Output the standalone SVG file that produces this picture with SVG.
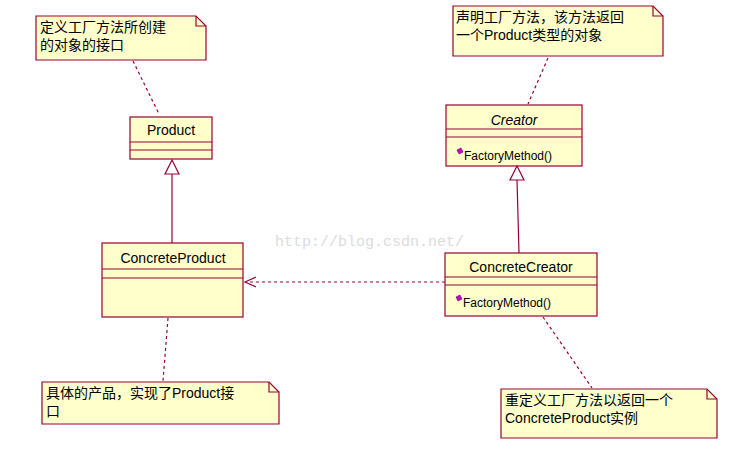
<svg xmlns="http://www.w3.org/2000/svg" width="744" height="460" viewBox="0 0 744 460">
<style>
.box{fill:#ffffcc;stroke:#990033;stroke-width:1.2}
.ln{stroke:#990033;stroke-width:1.2;fill:none}
.dash{stroke:#990033;stroke-width:1.2;fill:none;stroke-dasharray:3,3}
text{font-family:"Liberation Sans","Noto Sans CJK SC",sans-serif;font-size:14px;fill:#000}
.op{font-size:12px}
</style>
<rect width="744" height="460" fill="#fff"/>
<text x="275" y="246" style="font-family:'Liberation Mono',monospace;font-size:15px;fill:#dcdcdc">http://blog.csdn.net/</text>
<g id="note1"><path class="box" d="M36,16H196L206,26V60H36Z"/><path class="ln" d="M196,16V26H206"/>
<text x="40" y="32">定义工厂方法所创建</text><text x="40" y="50">的对象的接口</text></g>
<g id="note2"><path class="box" d="M453,6H653L663,16V56H453Z"/><path class="ln" d="M653,6V16H663"/>
<text x="456" y="22">声明工厂方法，该方法返回</text><text x="456" y="40">一个Product类型的对象</text></g>
<g id="note3"><path class="box" d="M42,382H269L279,392V424H42Z"/><path class="ln" d="M269,382V392H279"/>
<text x="46" y="398">具体的产品，实现了Product接</text><text x="46" y="416">口</text></g>
<g id="note4"><path class="box" d="M501,389H707L717,399V438H501Z"/><path class="ln" d="M707,389V399H717"/>
<text x="505" y="405">重定义工厂方法以返回一个</text><text x="505" y="423">ConcreteProduct实例</text></g>
<g id="product"><rect class="box" x="130" y="117" width="82" height="42"/><path class="ln" d="M130,142H212M130,150H212"/>
<text x="171" y="135" text-anchor="middle">Product</text></g>
<g id="creator"><rect class="box" x="446" y="105" width="136" height="61"/><path class="ln" d="M446,129H582M446,137H582"/>
<text x="514" y="125" text-anchor="middle" font-style="italic">Creator</text>
<path d="M457,150l4,-2l2,4l-4,2z" fill="#cc00cc" stroke="#660066" stroke-width="0.6"/>
<text class="op" x="464" y="160">FactoryMethod()</text></g>
<g id="concreteProduct"><rect class="box" x="102" y="243" width="141" height="74"/><path class="ln" d="M102,269H243M102,278H243"/>
<text x="173" y="263" text-anchor="middle">ConcreteProduct</text></g>
<g id="concreteCreator"><rect class="box" x="445" y="253" width="152" height="63"/><path class="ln" d="M445,277H597M445,285H597"/>
<text x="521" y="272" text-anchor="middle">ConcreteCreator</text>
<path d="M456,297l4,-2l2,4l-4,2z" fill="#cc00cc" stroke="#660066" stroke-width="0.6"/>
<text class="op" x="463" y="307">FactoryMethod()</text></g>
<g id="connectors">
<path class="dash" d="M133,61L159,114"/>
<path class="dash" d="M548,58L528,104"/>
<path class="dash" d="M168,318L163,381"/>
<path class="dash" d="M543,317L592,388"/>
<path class="ln" d="M172,174V243"/><path d="M172,160L165,174H179Z" fill="#fff" stroke="#990033" stroke-width="1.2"/>
<path class="ln" d="M517,180L519,253"/><path d="M517,166L510,180H524Z" fill="#fff" stroke="#990033" stroke-width="1.2"/>
<path class="dash" d="M445,282H246"/><path class="ln" d="M256,277L245,282L256,287"/>
</g>
</svg>
